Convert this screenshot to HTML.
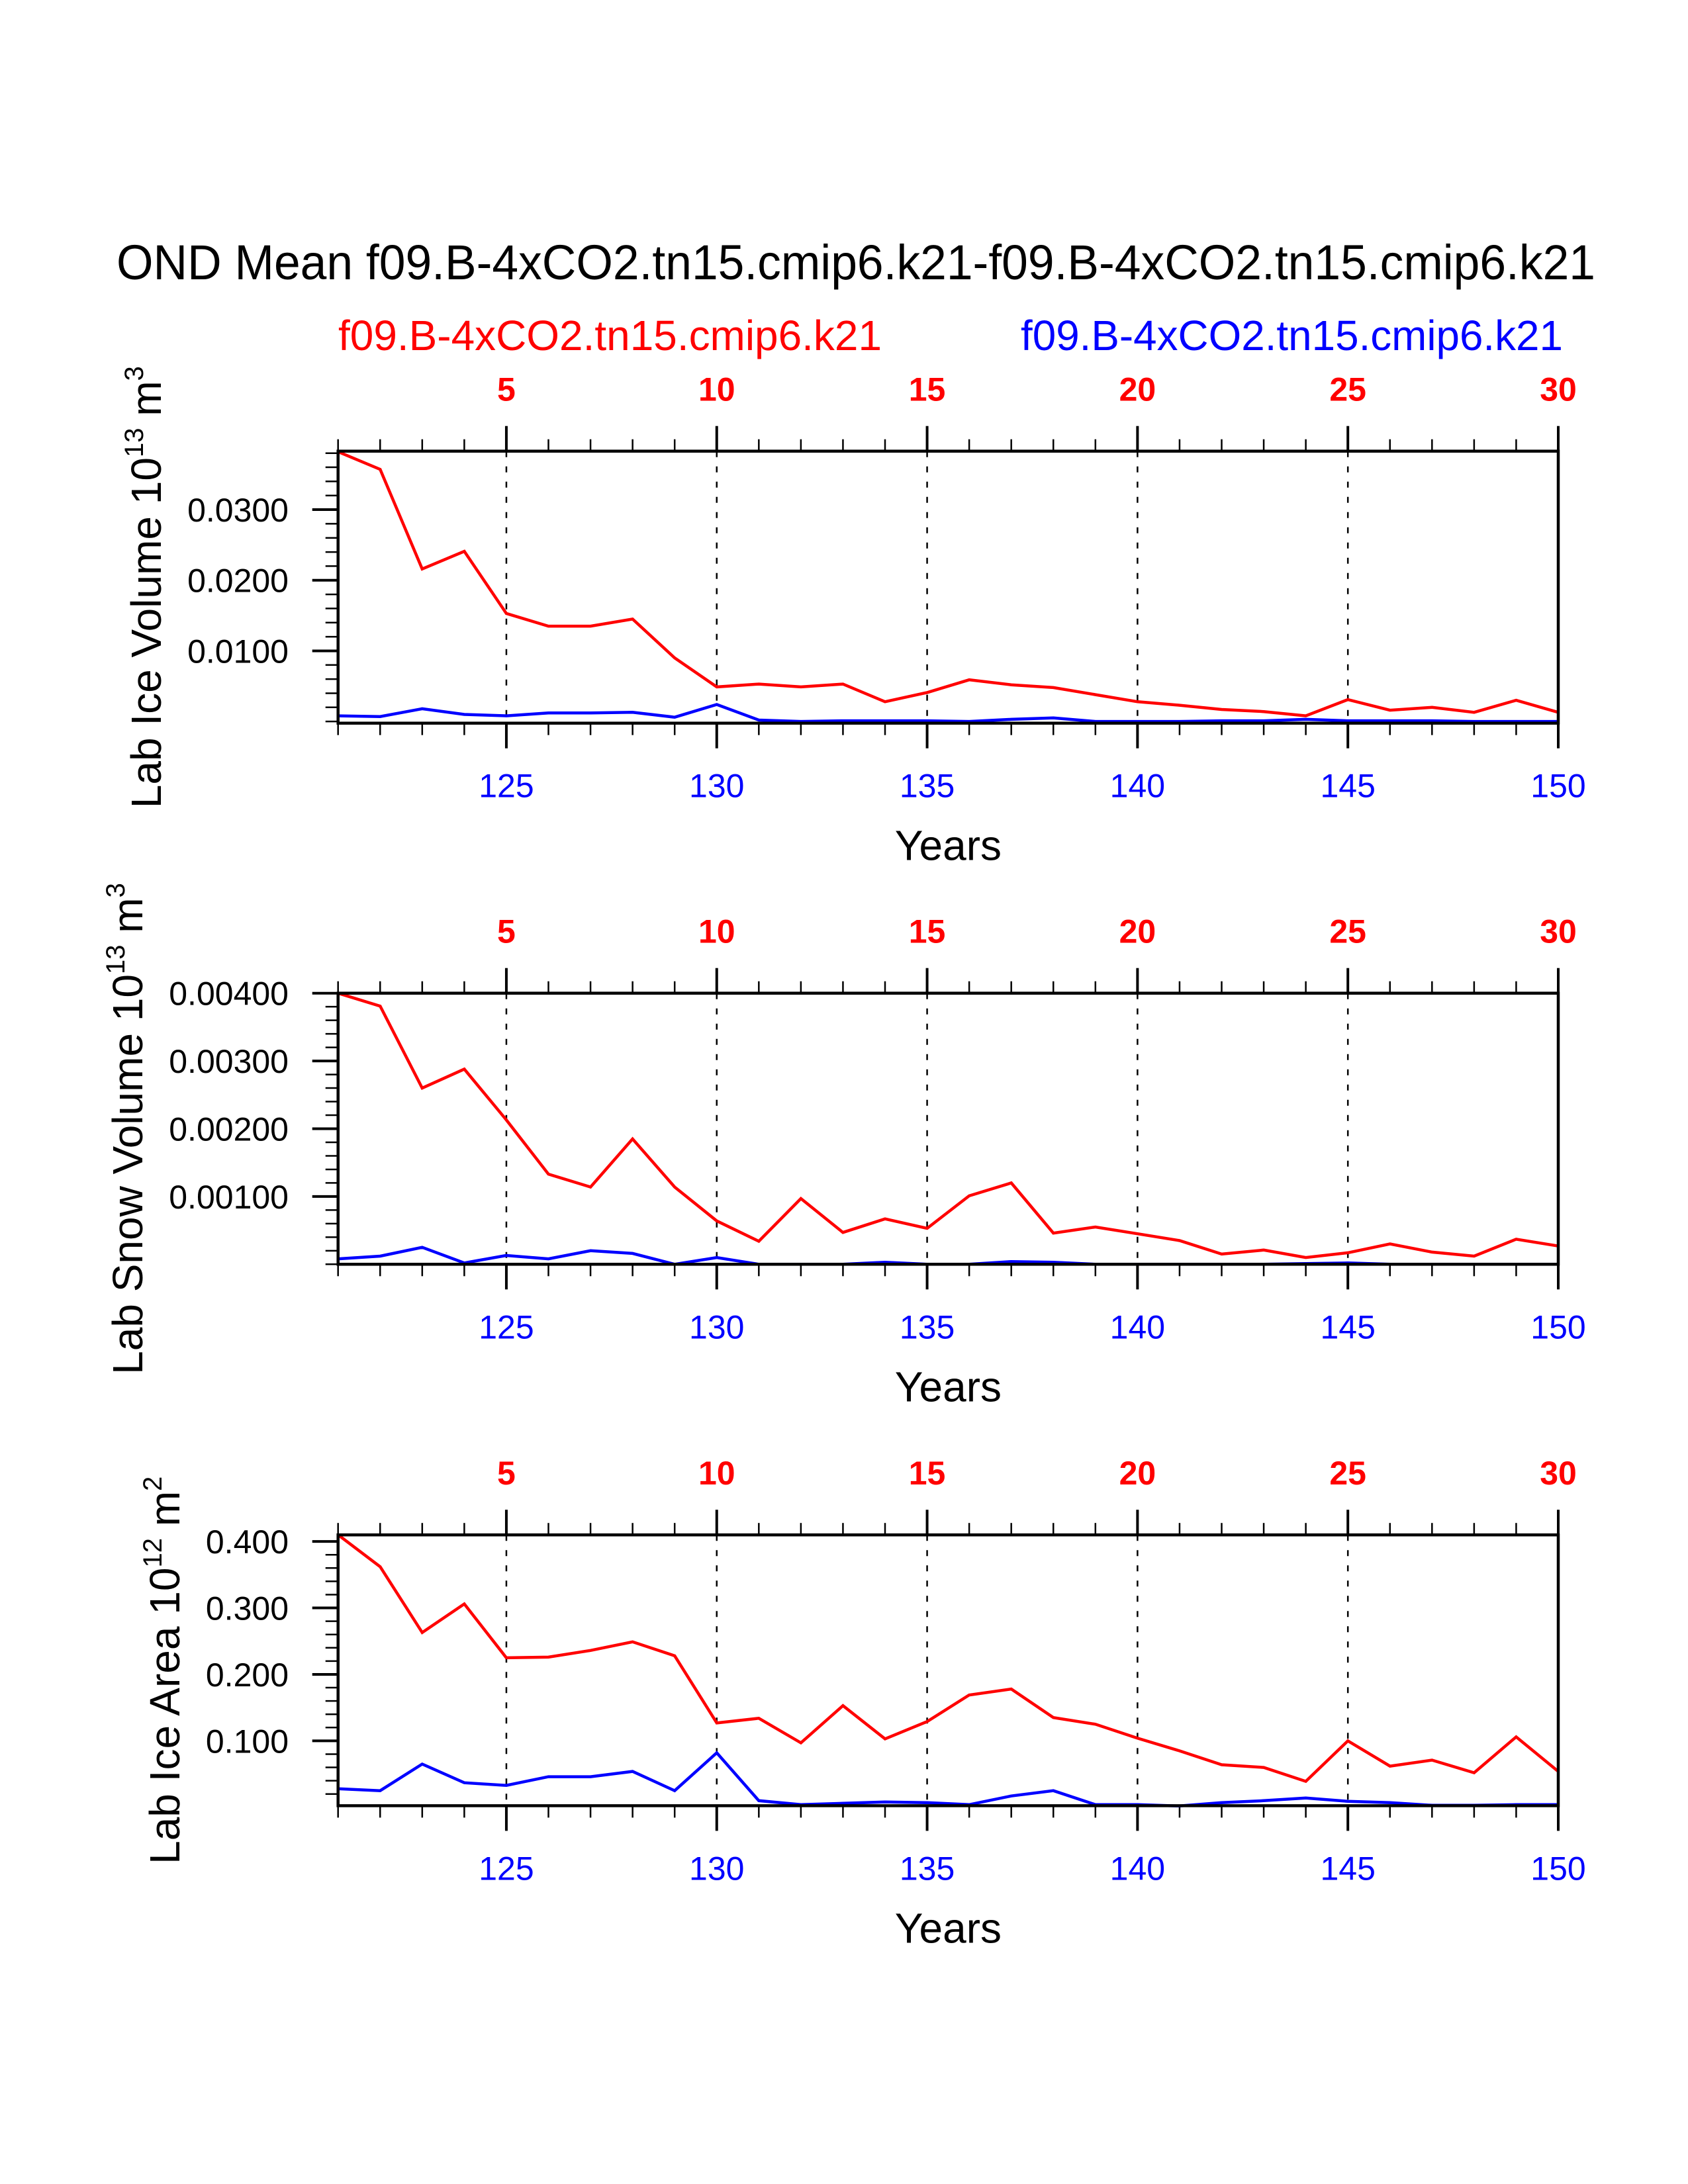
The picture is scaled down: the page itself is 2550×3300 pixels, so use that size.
<!DOCTYPE html>
<html>
<head>
<meta charset="utf-8">
<style>
html,body{margin:0;padding:0;background:#fff;}
svg{display:block;}
text{font-family:"Liberation Sans",Arial,sans-serif;}
</style>
</head>
<body>
<svg id="chart" xmlns="http://www.w3.org/2000/svg" width="2550" height="3300" viewBox="0 0 2550 3300">
  <rect x="0" y="0" width="2550" height="3300" fill="#fff"/>
  <text x="176" y="422" font-size="74" textLength="2234" lengthAdjust="spacingAndGlyphs" fill="#000">OND Mean f09.B-4xCO2.tn15.cmip6.k21-f09.B-4xCO2.tn15.cmip6.k21</text>
  <text x="511" y="529" font-size="64" textLength="821" lengthAdjust="spacingAndGlyphs" fill="#ff0000">f09.B-4xCO2.tn15.cmip6.k21</text>
  <text x="1542" y="529" font-size="64" textLength="819" lengthAdjust="spacingAndGlyphs" fill="#0000ff">f09.B-4xCO2.tn15.cmip6.k21</text>
</svg>
<script>
// ---- data ----
const years = [121,122,123,124,125,126,127,128,129,130,131,132,133,134,135,136,137,138,139,140,141,142,143,144,145,146,147,148,149,150];
const topTickLabels = ["5","10","15","20","25","30"];
const bottomTickLabels = ["125","130","135","140","145","150"];
const majorYears = [125,130,135,140,145,150];

const iceVolRed = [0.0382,0.0357,0.0216,0.0241,0.0153,0.0135,0.0135,0.0145,0.0090,0.0049,0.0053,0.0049,0.0053,0.0028,0.0041,0.0059,0.0052,0.0048,0.0038,0.0028,0.0023,0.0017,0.0014,0.0008,0.0031,0.0016,0.0020,0.0013,0.0030,0.0013];
const iceVolBlue = [0.0008,0.0007,0.0018,0.0010,0.0008,0.0012,0.0012,0.0013,0.0006,0.0024,0.0002,0.0000,0.0001,0.0001,0.0001,0.0000,0.0003,0.0005,0.0000,0.0000,0.0000,0.0001,0.0001,0.0003,0.0001,0.0001,0.0001,0.0000,0.0000,0.0000];

const snowVolRed = [0.00400,0.00381,0.00260,0.00288,0.00213,0.00133,0.00114,0.00185,0.00114,0.00064,0.00034,0.00097,0.00047,0.00067,0.00053,0.00101,0.00120,0.00046,0.00055,0.00045,0.00035,0.00015,0.00021,0.00010,0.00017,0.00030,0.00018,0.00012,0.00037,0.00027];
const snowVolBlue = [0.00008,0.00012,0.00025,0.00002,0.00013,0.00008,0.00020,0.00016,0.00000,0.00010,0.00000,0.00000,0.00000,0.00003,0.00000,0.00000,0.00004,0.00003,0.00000,0.00000,0.00000,0.00000,0.00000,0.00001,0.00002,0.00000,0.00000,0.00000,0.00000,0.00000];

const iceAreaRed = [0.410,0.362,0.263,0.306,0.225,0.226,0.236,0.249,0.228,0.127,0.134,0.097,0.153,0.103,0.129,0.169,0.178,0.135,0.125,0.104,0.085,0.064,0.060,0.039,0.100,0.062,0.071,0.052,0.106,0.054];
const iceAreaBlue = [0.028,0.025,0.065,0.037,0.033,0.046,0.046,0.054,0.025,0.082,0.010,0.004,0.006,0.008,0.007,0.004,0.017,0.025,0.004,0.004,0.002,0.007,0.010,0.014,0.009,0.007,0.003,0.003,0.004,0.004];

const iceVolTicks = ["0.0100","0.0200","0.0300"];
const snowVolTicks = ["0.00100","0.00200","0.00300","0.00400"];
const iceAreaTicks = ["0.100","0.200","0.300","0.400"];

// ---- layout ----
const NS = "http://www.w3.org/2000/svg";
const svg = document.getElementById("chart");
const X0 = 510.7, X1 = 2354;
const panels = [
  {name:"ice-volume", top:681.7, bottom:1092.7, ymin:-0.00024, ymax:0.03828, minor:0.002, majorVals:[0.01,0.02,0.03], tickLabels:iceVolTicks, red:iceVolRed, blue:iceVolBlue, titleX:243, main:"Lab Ice Volume 10", sup1:"13", unit:" m", sup2:"3"},
  {name:"snow-volume", top:1500.7, bottom:1910.3, ymin:0, ymax:0.004, minor:0.0002, majorVals:[0.001,0.002,0.003,0.004], tickLabels:snowVolTicks, red:snowVolRed, blue:snowVolBlue, titleX:215, main:"Lab Snow Volume 10", sup1:"13", unit:" m", sup2:"3"},
  {name:"ice-area", top:2319.2, bottom:2728.4, ymin:0.0024, ymax:0.4099, minor:0.02, majorVals:[0.1,0.2,0.3,0.4], tickLabels:iceAreaTicks, red:iceAreaRed, blue:iceAreaBlue, titleX:271, main:"Lab Ice Area 10", sup1:"12", unit:" m", sup2:"2"}
];
function xScale(yr){ return X0 + (yr - years[0]) * (X1 - X0) / (years[years.length-1] - years[0]); }
function yScaleFor(p){ return v => p.bottom - (v - p.ymin) * (p.bottom - p.top) / (p.ymax - p.ymin); }
function mk(tag, attrs, parent){
  const e = document.createElementNS(NS, tag);
  for (const k in attrs) e.setAttribute(k, attrs[k]);
  (parent || svg).appendChild(e);
  return e;
}

panels.forEach(p => {
  const g = mk("g", {});
  
  
  const ys = yScaleFor(p);

  majorYears.slice(0, -1).forEach(yr => {
    const l = mk("line", {x1:xScale(yr), x2:xScale(yr), y1:p.top, y2:p.bottom, stroke:"#000", "stroke-width":2.5, "stroke-dasharray":"9,14"}, g);
    
    
  });

  years.forEach(yr => {
    const isMaj = majorYears.includes(yr);
    const len = isMaj ? 38 : 18;
    const sw = isMaj ? 4 : 2.5;
    const t1 = mk("line", {x1:xScale(yr), x2:xScale(yr), y1:p.top, y2:p.top - len, stroke:"#000", "stroke-width":sw}, g);
    
    
    const t2 = mk("line", {x1:xScale(yr), x2:xScale(yr), y1:p.bottom, y2:p.bottom + len, stroke:"#000", "stroke-width":sw}, g);
    
    
  });
  majorYears.forEach((yr, i) => {
    const t = mk("text", {x:xScale(yr), y:p.top - 76, "font-size":50, "font-weight":"bold", fill:"#ff0000", "text-anchor":"middle"}, g);
    t.textContent = topTickLabels[i];
    
    
    const b = mk("text", {x:xScale(yr), y:p.bottom + 112, "font-size":50, fill:"#0000ff", "text-anchor":"middle"}, g);
    b.textContent = bottomTickLabels[i];
    
    
  });

  const nMinor = Math.floor((p.ymax + 1e-9) / p.minor);
  for (let k = 0; k <= nMinor; k++) {
    const v = k * p.minor;
    if (v < p.ymin - 1e-12 || v > p.ymax + 1e-9) continue;
    const isMaj = p.majorVals.some(m => Math.abs(m - v) < p.minor / 10);
    const l = mk("line", {x1:X0, x2:X0 - (isMaj ? 39 : 19), y1:ys(v), y2:ys(v), stroke:"#000", "stroke-width":isMaj ? 4 : 2.5}, g);
    
    
  }
  p.majorVals.forEach((v, i) => {
    const t = mk("text", {x:436, y:ys(v) + 18, "font-size":50, fill:"#000", "text-anchor":"end"}, g);
    t.textContent = p.tickLabels[i];
    
    
  });

  [[p.blue, "#0000ff", "blue-series"], [p.red, "#ff0000", "red-series"]].forEach(s => {
    const pts = years.map((yr, i) => xScale(yr).toFixed(1) + "," + ys(s[0][i]).toFixed(1)).join(" ");
    const pl = mk("polyline", {points:pts, fill:"none", stroke:s[1], "stroke-width":4.5, "stroke-linejoin":"miter"}, g);
    
    
  });

  const fr = mk("rect", {x:X0, y:p.top, width:X1 - X0, height:p.bottom - p.top, fill:"none", stroke:"#000", "stroke-width":4.5}, g);
  
  

  const xt = mk("text", {x:(X0 + X1) / 2, y:p.bottom + 207, "font-size":64, fill:"#000", "text-anchor":"middle"}, g);
  xt.textContent = "Years";
  
  

  const cy = (p.top + p.bottom) / 2;
  const yt = mk("text", {x:0, y:0, "font-size":64, fill:"#000", "text-anchor":"middle", transform:"translate(" + p.titleX + "," + cy + ") rotate(-90)"}, g);
  
  
  const a = mk("tspan", {}, yt); a.textContent = p.main;
  const b1 = mk("tspan", {dy:-27, "font-size":40}, yt); b1.textContent = p.sup1;
  const c = mk("tspan", {dy:27}, yt); c.textContent = p.unit;
  const d = mk("tspan", {dy:-27, "font-size":40}, yt); d.textContent = p.sup2;
});
</script>
</body>
</html>
